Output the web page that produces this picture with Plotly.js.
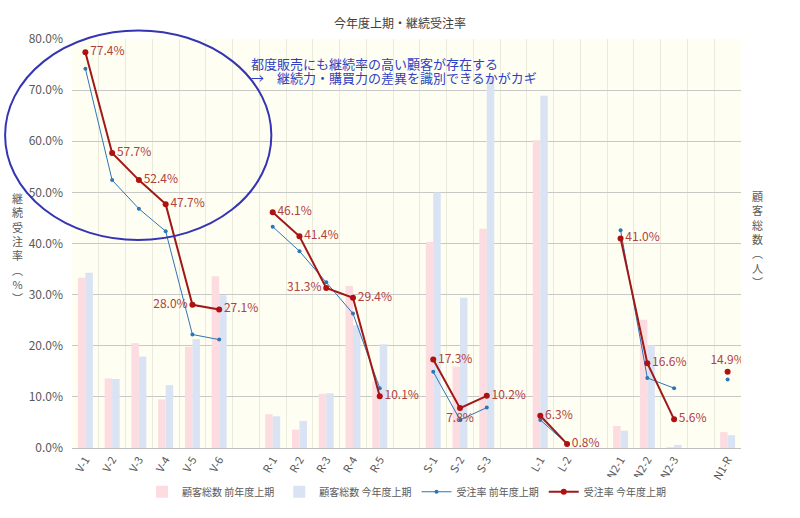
<!DOCTYPE html>
<html><head><meta charset="utf-8">
<script src="https://cdn.plot.ly/plotly-3.0.1.min.js"></script>
<style>html,body{margin:0;padding:0;background:#fff}</style>
</head><body><div id="chart" style="width:800px;height:518px"></div>
<script>
const categories = ['V-1','V-2','V-3','V-4','V-5','V-6','', 'R-1','R-2','R-3','R-4','R-5','', 'S-1','S-2','S-3','', 'L-1','L-2','', 'N2-1','N2-2','N2-3','', 'N1-R'];
const customersPrev = [333,136,205,95,198,336,null, 66,36,106,317,130,null, 403,159,429,null, 602,0,null, 43,251,2,null, 31];
const customersCurr = [343,135,179,123,213,299,null, 62,53,107,240,203,null, 500,294,726,null, 689,0,null, 34,201,6,null, 25];
const ratePrev = [74.2,52.4,46.8,42.4,22.2,21.2,null, 43.3,38.5,32.4,26.3,11.7,null, 14.9,5.5,7.9,null, 5.5,0.8,null, 42.6,13.7,11.7,null, 13.4];
const rateCurr = [77.4,57.7,52.4,47.7,28.0,27.1,null, 46.1,41.4,31.3,29.4,10.1,null, 17.3,7.8,10.2,null, 6.3,0.8,null, 41.0,16.6,5.6,null, 14.9];
const labelPos = ['middle right','middle right','middle right','middle right','middle left','middle right','middle right',
  'middle right','middle right','middle left','middle right','middle right','middle right',
  'middle right','bottom center','middle right','middle right',
  'middle right','middle right','middle right',
  'middle right','middle right','middle right','middle right','top center'];
const seriesNames = ['顧客総数 前年度上期','顧客総数 今年度上期','受注率 前年度上期','受注率 今年度上期'];
const noteLines = ['都度販売にも継続率の高い顧客が存在する', '→　継続力・購買力の差異を識別できるかがカギ'];

const xIdx = categories.map((c,i)=>i);
const tickVals = xIdx.filter(i=>categories[i] !== '');
const tickText = tickVals.map(i=>categories[i]);
const font = 'Noto Sans CJK JP, sans-serif';

const traces = [
  {type:'bar', name:seriesNames[0], x:xIdx, y:customersPrev, yaxis:'y', marker:{color:'#FCDCE0'}, hoverinfo:'skip'},
  {type:'bar', name:seriesNames[1], x:xIdx, y:customersCurr, yaxis:'y', marker:{color:'#DAE3F3'}, hoverinfo:'skip'},
  {type:'scatter', mode:'lines+markers', name:seriesNames[2], x:xIdx, y:ratePrev, yaxis:'y2',
   line:{color:'#2E75B6', width:1}, marker:{color:'#2E75B6', size:4}, connectgaps:false},
  {type:'scatter', mode:'lines+markers+text', name:seriesNames[3], x:xIdx, y:rateCurr, yaxis:'y2',
   line:{color:'#A01818', width:2}, marker:{color:'#B01010', size:6}, connectgaps:false,
   text: rateCurr.map(v=> v==null ? '' : v.toFixed(1)+'%'), textposition: labelPos,
   textfont:{color:'#B0413E', size:12, family:font}}
];

const layout = {
  width:800, height:518,
  margin:{l:72, r:59, t:39, b:68},
  paper_bgcolor:'#ffffff', plot_bgcolor:'#FFFEF2',
  font:{family:font, color:'#595959', size:11},
  title:{text:'今年度上期・継続受注率', font:{size:12, color:'#404040', family:font}, x:0.5, xanchor:'center', y:0.955, yanchor:'middle'},
  barmode:'group', bargap:0.44, bargroupgap:0,
  showlegend:true,
  legend:{orientation:'h', x:0.5, xanchor:'center', y:-0.107, yanchor:'middle', font:{size:10, color:'#595959'}, itemwidth:30, traceorder:'normal'},
  xaxis:{range:[-0.5, 24.5], tickmode:'array', tickvals:tickVals, ticktext:tickText, tickangle:-60,
    showgrid:false, zeroline:false, showline:true, linecolor:'#BFBFBF', linewidth:1, ticks:'',
    tickfont:{size:11, color:'#595959'},
    minor:{tick0:-0.5, dtick:1, showgrid:true, gridcolor:'#EBEBDC', gridwidth:1, ticks:''}},
  yaxis:{range:[0,800], side:'right', showticklabels:false, showgrid:false, zeroline:false, ticks:''},
  yaxis2:{range:[0,80], overlaying:'y', side:'left', tickvals:[0,10,20,30,40,50,60,70,80],
    ticktext:['0.0%','10.0%','20.0%','30.0%','40.0%','50.0%','60.0%','70.0%','80.0%'],
    showgrid:true, gridcolor:'#C8C8C8', gridwidth:1, zeroline:false, ticks:'', showline:false,
    ticklabelstandoff:8, tickfont:{size:12, color:'#595959'}},
  shapes:[{type:'circle', xref:'paper', yref:'paper', x0:-0.1, x1:0.298, y0:0.5085, y1:1.021,
    line:{color:'#3434B4', width:2}, fillcolor:'rgba(0,0,0,0)', layer:'above'}],
  annotations:[
    {xref:'paper', yref:'paper', x:0.265, y:0.941, xanchor:'left', yanchor:'middle', align:'left', showarrow:false,
     text:noteLines[0], font:{size:13, color:'#2F3FC4', family:font}},
    {xref:'paper', yref:'paper', x:0.265, y:0.907, xanchor:'left', yanchor:'middle', align:'left', showarrow:false,
     text:noteLines[1], font:{size:13, color:'#2F3FC4', family:font}},
    {xref:'paper', yref:'paper', x:-0.081, y:0.49, xanchor:'center', yanchor:'middle', showarrow:false,
     text:'継<br>続<br>受<br>注<br>率<br>︵<br>%<br>︶', font:{size:11, color:'#595959', family:font}},
    {xref:'paper', yref:'paper', x:1.024, y:0.51, xanchor:'center', yanchor:'middle', showarrow:false,
     text:'顧<br>客<br>総<br>数<br>︵<br>人<br>︶', font:{size:11, color:'#595959', family:font}}
  ]
};
Plotly.newPlot('chart', traces, layout, {displayModeBar:false, staticPlot:true});
</script></body></html>
